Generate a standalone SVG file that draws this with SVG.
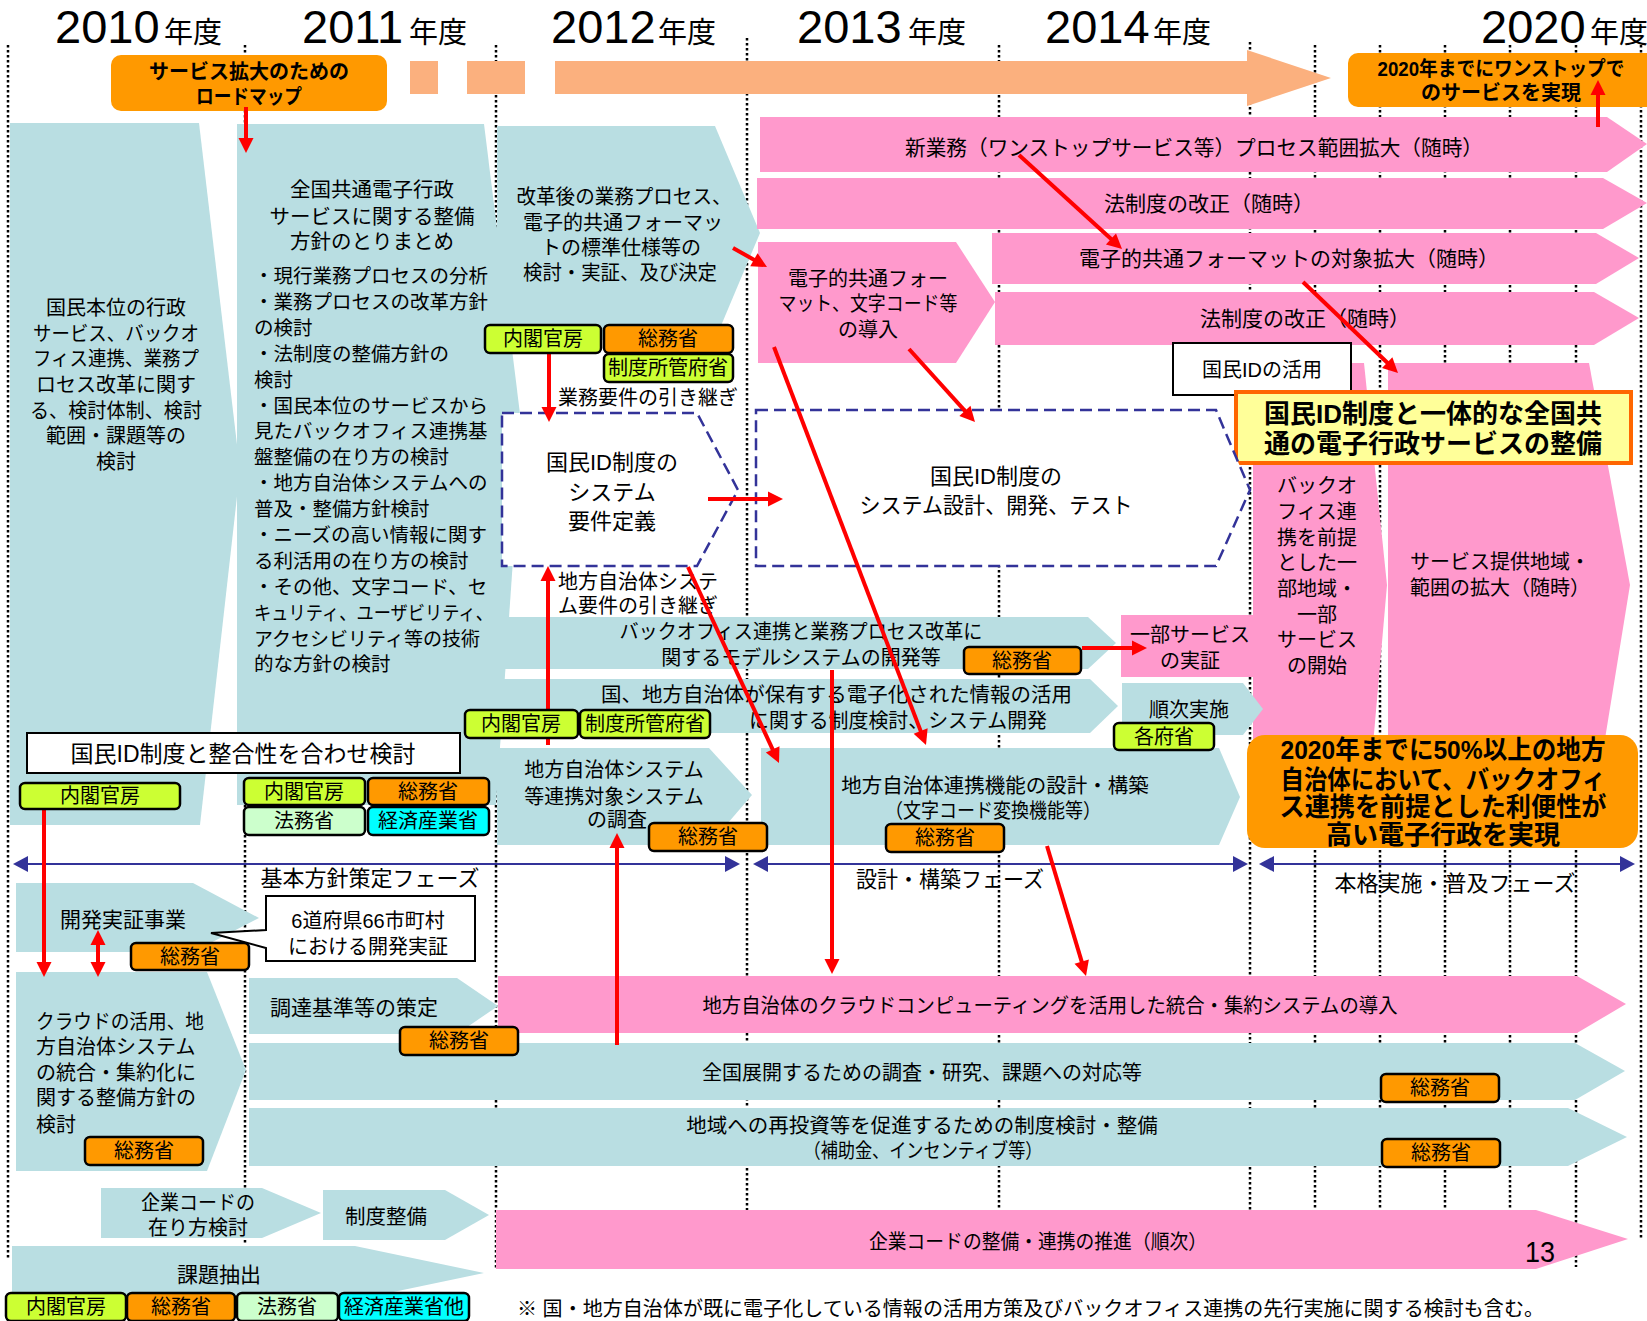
<svg xmlns="http://www.w3.org/2000/svg" width="1647" height="1321" viewBox="0 0 1647 1321">
<style>
text{font-family:"Liberation Sans","Noto Sans CJK JP",sans-serif;fill:#000}
.m{text-anchor:middle}
.b{font-weight:bold}
.f19{font-size:19.5px}.f20{font-size:20px}.f21{font-size:21px}.f22{font-size:22px}.f23{font-size:23px}.f26{font-size:26px}
.blue{fill:#B9DEE2}
.pink{fill:#FF99CC}
.sal{fill:#FBB07E}
.org{fill:#FF9900}
.dot{stroke:#000;stroke-width:2.5;stroke-dasharray:2.5 2.5;fill:none}
.dash{fill:#fff;stroke:#333399;stroke-width:2.5;stroke-dasharray:12 6}
.red{stroke:#FF0000;stroke-width:4;fill:none;marker-end:url(#ra)}
.ph{stroke:#333399;stroke-width:2;marker-start:url(#ba);marker-end:url(#ba)}
.bd rect{stroke:#000;stroke-width:2.5}
.g{fill:#CCFF33}.o{fill:#FF9900}.lg{fill:#CCFFCC}.c{fill:#00FFFF}
.wb{fill:#fff;stroke:#000;stroke-width:2}
</style>
<defs>
<marker id="ra" markerUnits="userSpaceOnUse" markerWidth="16" markerHeight="16" refX="1" refY="8" orient="auto-start-reverse" overflow="visible"><path d="M0,0.5 L15,8 L0,15.5 z" fill="#FF0000"/></marker>
<marker id="ba" markerUnits="userSpaceOnUse" markerWidth="16" markerHeight="16" refX="1" refY="8" orient="auto-start-reverse" overflow="visible"><path d="M0,0 L15,8 L0,16 z" fill="#333399"/></marker>
</defs>

<g id="gridlines">
<line class="dot" x1="8" y1="45" x2="8" y2="1258"/>
<line class="dot" x1="245" y1="45" x2="245" y2="1244"/>
<line class="dot" x1="496" y1="45" x2="496" y2="1268"/>
<line class="dot" x1="747" y1="38" x2="747" y2="1268"/>
<line class="dot" x1="999" y1="45" x2="999" y2="1268"/>
<line class="dot" x1="1250" y1="42" x2="1250" y2="1268"/>
<line class="dot" x1="1315" y1="45" x2="1315" y2="1268"/>
<line class="dot" x1="1380" y1="45" x2="1380" y2="1268"/>
<line class="dot" x1="1445" y1="45" x2="1445" y2="1268"/>
<line class="dot" x1="1510" y1="45" x2="1510" y2="1268"/>
<line class="dot" x1="1576" y1="45" x2="1576" y2="1267"/>
<line class="dot" x1="1641" y1="45" x2="1641" y2="1240"/>
</g>

<g id="years">
<text x="55" y="43"><tspan style="font-size:47px">2010</tspan><tspan x="164" style="font-size:29px">年度</tspan></text>
<text x="302" y="43"><tspan style="font-size:47px">2011</tspan><tspan x="409" style="font-size:29px">年度</tspan></text>
<text x="551" y="43"><tspan style="font-size:47px">2012</tspan><tspan x="658" style="font-size:29px">年度</tspan></text>
<text x="797" y="43"><tspan style="font-size:47px">2013</tspan><tspan x="908" style="font-size:29px">年度</tspan></text>
<text x="1045" y="43"><tspan style="font-size:47px">2014</tspan><tspan x="1153" style="font-size:29px">年度</tspan></text>
<text x="1481" y="43"><tspan style="font-size:47px">2020</tspan><tspan x="1590" style="font-size:29px">年度</tspan></text>
</g>

<g id="n-roadmap">
<rect x="111" y="55" width="276" height="56" rx="10" class="org"/>
<text class="m b f20" x="249" y="79">サービス拡大のための</text>
<text class="m b f20" x="249" y="104" textLength="106" lengthAdjust="spacingAndGlyphs">ロードマップ</text>
</g>

<g id="n-salmon-arrow">
<rect class="sal" x="410" y="61" width="28" height="33"/>
<rect class="sal" x="467" y="61" width="58" height="33"/>
<polygon class="sal" points="555,61 1247,61 1247,50 1331,78 1247,106 1247,94 555,94"/>
</g>

<g id="n-goal2020">
<rect x="1348" y="53" width="310" height="54" rx="10" class="org"/>
<text class="m b f20" x="1501" y="76" textLength="247" lengthAdjust="spacingAndGlyphs">2020年までにワンストップで</text>
<text class="m b f20" x="1501" y="100">のサービスを実現</text>
</g>

<g id="n-kokumin">
<polygon class="blue" points="10,123 199,123 240,470 200,825 10,825"/>
<text class="m f20" x="116" y="315">国民本位の行政</text>
<text class="m f20" x="116" y="341" textLength="166" lengthAdjust="spacingAndGlyphs">サービス、バックオ</text>
<text class="m f20" x="116" y="366" textLength="166" lengthAdjust="spacingAndGlyphs">フィス連携、業務プ</text>
<text class="m f20" x="116" y="392">ロセス改革に関す</text>
<text class="m f20" x="116" y="418" textLength="172" lengthAdjust="spacingAndGlyphs">る、検討体制、検討</text>
<text class="m f20" x="116" y="443">範囲・課題等の</text>
<text class="m f20" x="116" y="469">検討</text>
</g>

<g id="n-zenkoku">
<polygon class="blue" points="237,124 484,124 522,430 496,805 237,805"/>
<text class="m" style="font-size:20.5px" x="372" y="197">全国共通電子行政</text>
<text class="m" style="font-size:20.5px" x="372" y="224">サービスに関する整備</text>
<text class="m" style="font-size:20.5px" x="372" y="249">方針のとりまとめ</text>
<text class="f19" x="254" y="283">・現行業務プロセスの分析</text>
<text class="f19" x="254" y="309">・業務プロセスの改革方針</text>
<text class="f19" x="254" y="335">の検討</text>
<text class="f19" x="254" y="361">・法制度の整備方針の</text>
<text class="f19" x="254" y="387">検討</text>
<text class="f19" x="254" y="413">・国民本位のサービスから</text>
<text class="f19" x="254" y="438">見たバックオフィス連携基</text>
<text class="f19" x="254" y="464">盤整備の在り方の検討</text>
<text class="f19" x="254" y="490">・地方自治体システムへの</text>
<text class="f19" x="254" y="516">普及・整備方針検討</text>
<text class="f19" x="254" y="542">・ニーズの高い情報に関す</text>
<text class="f19" x="254" y="568">る利活用の在り方の検討</text>
<text class="f19" x="254" y="594">・その他、文字コード、セ</text>
<text class="f19" x="254" y="620" textLength="239" lengthAdjust="spacingAndGlyphs">キュリティ、ユーザビリティ、</text>
<text class="f19" x="254" y="646" textLength="226" lengthAdjust="spacingAndGlyphs">アクセシビリティ等の技術</text>
<text class="f19" x="254" y="671">的な方針の検討</text>
</g>

<g id="n-kaikaku">
<polygon class="blue" points="497,126 715,126 760,233 715,340 497,340"/>
<text class="m f20" x="624" y="204" textLength="215" lengthAdjust="spacingAndGlyphs">改革後の業務プロセス、</text>
<text class="m f20" x="623" y="230">電子的共通フォーマッ</text>
<text class="m f20" x="621" y="255">トの標準仕様等の</text>
<text class="m f20" x="620" y="280" textLength="194" lengthAdjust="spacingAndGlyphs">検討・実証、及び決定</text>
</g>

<g id="n-shingyomu">
<polygon class="pink" points="760,117 1607,117 1647,144 1607,172 760,172"/>
<text class="m f21" x="1194" y="155" textLength="578" lengthAdjust="spacingAndGlyphs">新業務（ワンストップサービス等）プロセス範囲拡大（随時）</text>
</g>
<g id="n-hosei1">
<polygon class="pink" points="757,178 1603,178 1647,203 1603,229 757,229"/>
<text class="m f21" x="1209" y="211">法制度の改正（随時）</text>
</g>
<g id="n-denshi-format">
<polygon class="pink" points="758,242 956,242 995,302 956,363 758,363"/>
<text class="m f20" x="868" y="286">電子的共通フォー</text>
<text class="m f20" x="868" y="311" textLength="179" lengthAdjust="spacingAndGlyphs">マット、文字コード等</text>
<text class="m f20" x="868" y="337">の導入</text>
</g>
<g id="n-taisho">
<polygon class="pink" points="992,233 1596,233 1639,258 1596,284 992,284"/>
<text class="m f21" x="1289" y="266">電子的共通フォーマットの対象拡大（随時）</text>
</g>
<g id="n-hosei2">
<polygon class="pink" points="995,292 1594,292 1639,318 1594,345 995,345"/>
<text class="m f21" x="1305" y="326">法制度の改正（随時）</text>
</g>

<g id="n-ichibu-kaishi">
<polygon class="pink" points="1253,363 1364,363 1387,585 1373,745 1253,745"/>
<rect class="pink" x="1121" y="615" width="136" height="62"/>
<text class="m f20" x="1317" y="493">バックオ</text>
<text class="m f20" x="1317" y="519">フィス連</text>
<text class="m f20" x="1317" y="545">携を前提</text>
<text class="m f20" x="1317" y="570">とした一</text>
<text class="m f20" x="1317" y="596">部地域・</text>
<text class="m f20" x="1317" y="622">一部</text>
<text class="m f20" x="1317" y="647">サービス</text>
<text class="m f20" x="1317" y="673">の開始</text>
<text class="m f20" x="1190" y="642">一部サービス</text>
<text class="m f20" x="1190" y="668">の実証</text>
</g>
<g id="n-kakudai">
<polygon class="pink" points="1388,363 1589,363 1630,585 1604,745 1388,745"/>
<text class="m f20" x="1500" y="569">サービス提供地域・</text>
<text class="m f20" x="1500" y="595">範囲の拡大（随時）</text>
</g>

<g id="n-id-katsuyo">
<path class="wb" d="M1173,343 H1351 V395 H1297 L1290,400 L1283,395 H1173 Z"/>
<text class="m f20" x="1262" y="377">国民IDの活用</text>
</g>
<g id="n-ittai">
<rect x="1236" y="392" width="395" height="71" fill="#FFFF99" stroke="#FF6600" stroke-width="4"/>
<text class="m b f26" x="1433" y="423">国民ID制度と一体的な全国共</text>
<text class="m b f26" x="1433" y="453">通の電子行政サービスの整備</text>
</g>

<g id="n-youken">
<polygon class="dash" points="502,413 697,413 738,490 697,566 502,566"/>
<text class="m f22" x="612" y="470">国民ID制度の</text>
<text class="m f22" x="612" y="500">システム</text>
<text class="m f22" x="612" y="529">要件定義</text>
</g>
<g id="n-sekkei">
<polygon class="dash" points="756,410 1216,410 1250,490 1216,566 756,566"/>
<text class="m f22" x="996" y="484">国民ID制度の</text>
<text class="m f22" x="996" y="513" textLength="273" lengthAdjust="spacingAndGlyphs">システム設計、開発、テスト</text>
</g>

<g id="labels-hikitsugi">
<text class="f20" x="558" y="405">業務要件の引き継ぎ</text>
<text class="f20" x="558" y="589">地方自治体システ</text>
<text class="f20" x="558" y="613">ム要件の引き継ぎ</text>
</g>

<g id="n-backoffice">
<polygon class="blue" points="490,617 1088,617 1116,643 1088,669 490,669"/>
<text class="m f20" x="801" y="639" textLength="363" lengthAdjust="spacingAndGlyphs">バックオフィス連携と業務プロセス改革に</text>
<text class="m f20" x="801" y="665">関するモデルシステムの開発等</text>
</g>
<g id="n-seido-kento">
<polygon class="blue" points="490,679 1090,679 1118,706 1090,733 490,733"/>
<text class="f20" x="601" y="702" textLength="471" lengthAdjust="spacingAndGlyphs">国、地方自治体が保有する電子化された情報の活用</text>
<text class="f20" x="749" y="728" textLength="298" lengthAdjust="spacingAndGlyphs">に関する制度検討、システム開発</text>
</g>
<g id="n-junji">
<polygon class="blue" points="1122,683 1243,683 1263,709 1243,735 1122,735"/>
<text class="m f20" x="1189" y="717">順次実施</text>
</g>

<g id="n-chosa">
<polygon class="blue" points="497,748 709,748 752,795 709,845 497,845"/>
<text class="m f20" x="614" y="777">地方自治体システム</text>
<text class="m f20" x="614" y="804">等連携対象システム</text>
<text class="m f20" x="617" y="827">の調査</text>
</g>
<g id="n-renkei-kino">
<polygon class="blue" points="761,748 1219,748 1240,797 1219,845 761,845"/>
<text class="m" style="font-size:20.5px" x="995" y="793">地方自治体連携機能の設計・構築</text>
<text class="m f20" x="993" y="818" textLength="216" lengthAdjust="spacingAndGlyphs">（文字コード変換機能等）</text>
</g>

<g id="n-goal50">
<rect x="1247" y="735" width="391" height="113" rx="18" class="org"/>
<text class="m b f26" x="1443" y="759" textLength="325" lengthAdjust="spacingAndGlyphs">2020年までに50%以上の地方</text>
<text class="m b f26" x="1443" y="789" textLength="325" lengthAdjust="spacingAndGlyphs">自治体において、バックオフィ</text>
<text class="m b f26" x="1443" y="816" textLength="327" lengthAdjust="spacingAndGlyphs">ス連携を前提とした利便性が</text>
<text class="m b f26" x="1443" y="844">高い電子行政を実現</text>
</g>

<g id="n-seigosei">
<rect class="wb" x="27" y="733" width="433" height="40"/>
<text class="m f23" x="243" y="762">国民ID制度と整合性を合わせ検討</text>
</g>

<g id="phases">
<line class="ph" x1="27" y1="864" x2="726" y2="864"/>
<line class="ph" x1="767" y1="864" x2="1234" y2="864"/>
<line class="ph" x1="1273" y1="864" x2="1621" y2="864"/>
<text class="m f22" x="370" y="886">基本方針策定フェーズ</text>
<text class="m f22" x="950" y="887" textLength="188" lengthAdjust="spacingAndGlyphs">設計・構築フェーズ</text>
<text class="m f22" x="1455" y="891">本格実施・普及フェーズ</text>
</g>

<g id="n-jissho">
<polygon class="blue" points="16,883 193,883 259,918 193,952 16,952"/>
<text class="m f21" x="123" y="927">開発実証事業</text>
</g>
<g id="n-callout66">
<path class="wb" d="M266,896 H475 V961 H266 V948 L211,933 L266,930 Z"/>
<text class="m f20" x="368" y="928">6道府県66市町村</text>
<text class="m f20" x="368" y="954">における開発実証</text>
</g>
<g id="n-cloud">
<polygon class="blue" points="16,972 207,972 246,1070 207,1171 16,1171"/>
<text class="f20" x="36" y="1029" textLength="168" lengthAdjust="spacingAndGlyphs">クラウドの活用、地</text>
<text class="f20" x="36" y="1054">方自治体システム</text>
<text class="f20" x="36" y="1080">の統合・集約化に</text>
<text class="f20" x="36" y="1105">関する整備方針の</text>
<text class="f20" x="36" y="1132">検討</text>
</g>
<g id="n-chotatsu">
<polygon class="blue" points="249,978 457,978 498,1006 457,1034 249,1034"/>
<text class="f21" x="270" y="1015">調達基準等の策定</text>
</g>
<g id="n-cloud-donyu">
<polygon class="pink" points="498,976 1577,976 1626,1004 1577,1033 498,1033"/>
<text class="m f20" x="1050" y="1013" textLength="695" lengthAdjust="spacingAndGlyphs">地方自治体のクラウドコンピューティングを活用した統合・集約システムの導入</text>
</g>
<g id="n-zenkoku-tenkai">
<polygon class="blue" points="249,1043 1575,1043 1625,1071 1575,1100 249,1100"/>
<text class="m f20" x="922" y="1080">全国展開するための調査・研究、課題への対応等</text>
</g>
<g id="n-saitoshi">
<polygon class="blue" points="249,1108 1568,1108 1627,1137 1568,1166 249,1166"/>
<text class="m" style="font-size:20.5px" x="922" y="1133">地域への再投資等を促進するための制度検討・整備</text>
<text class="m f20" x="923" y="1158" textLength="239" lengthAdjust="spacingAndGlyphs">（補助金、インセンティブ等）</text>
</g>
<g id="n-kigyo-kento">
<polygon class="blue" points="101,1188 262,1188 321,1213 262,1238 101,1238"/>
<text class="m f20" x="198" y="1210" textLength="114" lengthAdjust="spacingAndGlyphs">企業コードの</text>
<text class="m f20" x="198" y="1235">在り方検討</text>
</g>
<g id="n-seido-seibi">
<polygon class="blue" points="323,1190 445,1190 489,1215 445,1240 323,1240"/>
<text class="m" style="font-size:20.5px" x="386" y="1224">制度整備</text>
</g>
<g id="n-kigyo-suishin">
<polygon class="pink" points="496,1210 1536,1210 1628,1239 1536,1269 496,1269"/>
<text class="m f20" x="1038" y="1249" textLength="338" lengthAdjust="spacingAndGlyphs">企業コードの整備・連携の推進（順次）</text>
<text x="1525" y="1262" style="font-size:30px" textLength="30" lengthAdjust="spacingAndGlyphs">13</text>
</g>
<g id="n-kadai">
<polygon class="blue" points="12,1246 355,1246 484,1273 355,1300 12,1300"/>
<text class="m f21" x="219" y="1282">課題抽出</text>
</g>

<g id="footnote">
<text class="f20" x="517" y="1316" textLength="1027" lengthAdjust="spacingAndGlyphs">※ 国・地方自治体が既に電子化している情報の活用方策及びバックオフィス連携の先行実施に関する検討も含む。</text>
</g>

<g id="connectors">
<line class="red" x1="246" y1="107" x2="246" y2="139"/>
<line class="red" x1="1598" y1="127" x2="1598" y2="94"/>
<line class="red" x1="733" y1="248" x2="754.8" y2="260.2"/>
<line class="red" x1="1019" y1="155" x2="1111.7" y2="239.6"/>
<line class="red" x1="1303" y1="282" x2="1387.9" y2="363.3"/>
<line class="red" x1="909" y1="349" x2="965.6" y2="411.6"/>
<line class="red" x1="774" y1="347" x2="921" y2="731.9"/>
<line class="red" x1="688" y1="567" x2="773.1" y2="750.3"/>
<line class="red" x1="832" y1="670" x2="832" y2="960"/>
<line class="red" x1="1047" y1="846" x2="1082" y2="962.6"/>
<line class="red" x1="617" y1="1045" x2="617" y2="847"/>
<line class="red" x1="548" y1="745" x2="548" y2="580"/>
<line class="red" x1="549" y1="354" x2="549" y2="408"/>
<line class="red" x1="708" y1="499" x2="769" y2="499"/>
<line class="red" x1="1082" y1="648" x2="1133" y2="648"/>
<line class="red" x1="44" y1="809" x2="44" y2="963"/>
<line class="red" x1="98" y1="944" x2="98" y2="963" style="marker-start:url(#ra)"/>
</g>

<g id="badges" class="bd">
<g id="b1"><rect class="g" x="485" y="325" width="116" height="28" rx="5"/><text class="m f20" x="543" y="346">内閣官房</text></g>
<g id="b2"><rect class="o" x="604" y="325" width="129" height="28" rx="5"/><text class="m f20" x="668" y="346">総務省</text></g>
<g id="b3"><rect class="g" x="604" y="354" width="129" height="28" rx="5"/><text class="m f20" x="668" y="375">制度所管府省</text></g>
<g id="b4"><rect class="g" x="20" y="783" width="160" height="26" rx="5"/><text class="m f20" x="100" y="803">内閣官房</text></g>
<g id="b5"><rect class="g" x="244" y="778" width="121" height="27" rx="5"/><text class="m f20" x="304" y="799">内閣官房</text></g>
<g id="b6"><rect class="o" x="368" y="778" width="121" height="27" rx="5"/><text class="m f20" x="428" y="799">総務省</text></g>
<g id="b7"><rect class="lg" x="244" y="807" width="121" height="28" rx="5"/><text class="m f20" x="304" y="828">法務省</text></g>
<g id="b8"><rect class="c" x="368" y="807" width="121" height="28" rx="5"/><text class="m f20" x="428" y="828">経済産業省</text></g>
<g id="b9"><rect class="g" x="465" y="710" width="113" height="28" rx="5"/><text class="m f20" x="521" y="731">内閣官房</text></g>
<g id="b10"><rect class="g" x="580" y="710" width="130" height="28" rx="5"/><text class="m f20" x="645" y="731">制度所管府省</text></g>
<g id="b11"><rect class="o" x="964" y="647" width="117" height="27" rx="5"/><text class="m f20" x="1022" y="668">総務省</text></g>
<g id="b12"><rect class="o" x="649" y="823" width="118" height="28" rx="5"/><text class="m f20" x="708" y="844">総務省</text></g>
<g id="b13"><rect class="o" x="886" y="824" width="118" height="28" rx="5"/><text class="m f20" x="945" y="845">総務省</text></g>
<g id="b14"><rect class="g" x="1114" y="723" width="100" height="27" rx="5"/><text class="m f20" x="1164" y="744">各府省</text></g>
<g id="b15"><rect class="o" x="131" y="943" width="118" height="27" rx="5"/><text class="m f20" x="190" y="964">総務省</text></g>
<g id="b16"><rect class="o" x="85" y="1137" width="118" height="28" rx="5"/><text class="m f20" x="144" y="1158">総務省</text></g>
<g id="b17"><rect class="o" x="400" y="1027" width="118" height="28" rx="5"/><text class="m f20" x="459" y="1048">総務省</text></g>
<g id="b18"><rect class="o" x="1381" y="1074" width="118" height="28" rx="5"/><text class="m f20" x="1440" y="1095">総務省</text></g>
<g id="b19"><rect class="o" x="1382" y="1139" width="118" height="28" rx="5"/><text class="m f20" x="1441" y="1160">総務省</text></g>
<g id="b20"><rect class="g" x="6" y="1293" width="120" height="28" rx="5"/><text class="m f20" x="66" y="1314">内閣官房</text></g>
<g id="b21"><rect class="o" x="127" y="1293" width="108" height="28" rx="5"/><text class="m f20" x="181" y="1314">総務省</text></g>
<g id="b22"><rect class="lg" x="237" y="1293" width="101" height="28" rx="5"/><text class="m f20" x="287" y="1314">法務省</text></g>
<g id="b23"><rect class="c" x="339" y="1293" width="130" height="28" rx="5"/><text class="m f20" x="404" y="1314">経済産業省他</text></g>
</g>
</svg>
